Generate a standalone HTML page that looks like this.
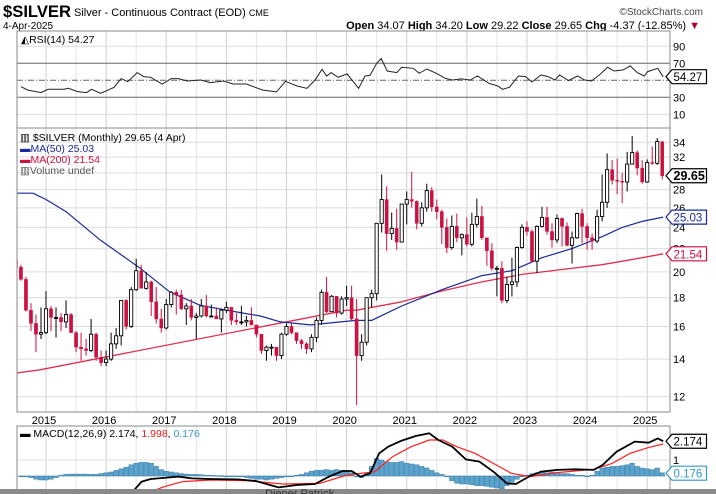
<!DOCTYPE html>
<html><head><meta charset="utf-8"><style>
html,body{margin:0;padding:0;background:#fff;}
svg{display:block;font-family:"Liberation Sans",sans-serif;}
</style></head><body>
<svg id="chart" width="716" height="494" viewBox="0 0 716 494" xmlns="http://www.w3.org/2000/svg">
<rect x="0" y="0" width="716" height="494" fill="#fff"/>
<g>
<text x="3" y="17" font-size="17" font-weight="bold" fill="#000" textLength="68" lengthAdjust="spacingAndGlyphs">$SILVER</text>
<text x="74" y="16" font-size="11" fill="#000">Silver - Continuous Contract (EOD) <tspan font-size="9">CME</tspan></text>
<text x="703" y="15" font-size="10" fill="#444" text-anchor="end">©StockCharts.com</text>
<text x="3" y="29" font-size="10" fill="#000">4-Apr-2025</text>
<text x="700" y="29" font-size="11" fill="#000" text-anchor="end"><tspan font-weight="bold">Open</tspan> 34.07 <tspan font-weight="bold">High</tspan> 34.20 <tspan font-weight="bold">Low</tspan> 29.22 <tspan font-weight="bold">Close</tspan> 29.65 <tspan font-weight="bold">Chg</tspan> -4.37 (-12.85%) <tspan fill="#b00020">▼</tspan></text>
</g>
<g id="grid"></g>
<g id="rsi"></g>
<g id="price"></g>
<g id="macd"></g>
<g id="labels"></g>
<rect x="0" y="489" width="716" height="5" fill="#8a8a8a"/>
<text x="265" y="497" font-size="11" fill="#333">Diener Patrick</text>
</svg>
<script>
// ---- data ----
const years = ['2015','2016','2017','2018','2019','2020','2021','2022','2023','2024','2025'];
// monthly candles Jul 2014 .. Apr 2025
const opens = [21.0,20.4,19.4,17.1,16.2,15.5,
15.6,17.2,16.6,16.6,16.3,16.8,15.6,14.7,14.6,14.5,15.5,14.1,
13.8,14.0,14.9,15.4,17.8,16.0,18.6,20.1,18.7,19.2,17.7,16.5,
15.9,17.5,18.4,18.2,17.2,17.4,16.6,16.7,17.4,16.7,16.7,16.5,
17.1,17.3,16.4,16.3,16.3,16.4,16.1,15.5,14.5,14.7,14.7,14.2,
15.5,16.0,15.6,15.1,14.9,14.6,15.3,16.4,18.4,17.0,18.1,16.9,
17.9,18.0,16.5,14.2,15.0,18.0,18.3,24.4,26.9,23.4,23.9,22.6,
26.4,26.9,26.7,24.4,26.0,27.9,26.1,25.6,24.0,22.1,24.1,23.0,
23.3,22.4,24.3,25.1,23.0,21.8,20.3,20.3,17.8,19.0,19.2,22.1,
24.0,23.6,20.9,24.1,25.0,23.6,22.8,24.9,24.1,22.3,23.0,25.4,
24.1,23.0,22.7,25.1,26.6,30.4,29.1,29.0,28.9,31.1,32.6,30.6,
28.9,31.3,31.2,34.07];
const highs = [21.6,20.6,19.6,17.6,16.8,17.3,
18.5,17.4,17.3,16.9,17.8,16.9,15.7,15.6,15.2,16.5,15.6,14.5,
14.5,15.6,15.9,17.8,17.9,18.8,21.1,20.6,20.0,19.3,18.8,17.2,
17.9,18.5,18.6,18.6,17.6,17.9,16.9,17.9,18.2,17.5,17.3,17.2,
17.7,17.3,16.9,17.4,16.7,17.3,16.1,15.5,14.8,14.9,14.7,15.6,
16.2,16.2,15.6,15.2,15.0,15.5,16.6,18.6,19.6,18.2,18.1,18.1,
18.9,18.9,17.9,15.5,18.0,18.6,24.4,29.8,28.4,25.5,25.9,26.4,
27.8,30.1,26.8,26.6,28.7,28.3,26.9,25.8,24.9,25.2,25.4,23.4,
25.0,25.5,27.0,26.2,23.0,22.5,20.5,20.9,19.6,21.2,22.2,24.3,
24.6,23.8,24.2,26.1,26.1,24.4,25.3,25.0,24.5,23.6,25.5,25.9,
24.4,23.4,25.8,29.8,32.5,31.6,31.8,30.0,32.7,34.9,32.9,31.6,
31.7,33.4,34.6,34.20];
const lows = [20.3,19.3,17.0,15.7,14.4,15.2,
15.5,15.7,15.3,15.7,15.9,15.6,14.4,13.9,14.2,14.4,13.9,13.6,
13.6,13.9,14.6,14.8,15.8,15.9,18.5,18.7,18.6,16.7,16.2,15.6,
15.8,17.3,16.8,17.1,16.1,16.4,15.2,16.6,16.6,16.6,16.5,15.6,
16.9,16.1,16.1,16.1,16.0,16.1,15.3,14.3,13.9,14.2,13.9,14.0,
15.4,15.5,14.9,14.6,14.3,14.4,15.0,16.1,16.9,17.0,16.6,16.8,
17.4,16.4,11.6,13.9,14.8,17.3,17.8,23.5,21.8,22.8,21.9,22.6,
24.3,26.0,23.8,24.1,25.6,25.6,24.8,22.4,21.6,21.9,22.6,21.4,
22.2,22.2,24.0,22.8,20.5,20.1,18.1,17.6,17.6,18.1,18.8,22.0,
23.2,20.8,19.9,24.0,23.3,22.1,22.5,22.2,22.2,20.7,22.9,22.5,
21.9,21.9,22.5,24.6,26.0,28.6,27.5,26.5,27.8,31.1,29.7,28.7,
28.8,31.0,31.0,29.22];
const closes = [20.4,19.4,17.1,16.2,15.5,15.6,
17.2,16.6,16.6,16.3,16.8,15.6,14.7,14.6,14.5,15.5,14.1,13.8,
14.0,14.9,15.4,17.8,16.0,18.6,20.1,18.7,19.2,17.7,16.5,15.9,
17.5,18.4,18.2,17.2,17.4,16.6,16.7,17.4,16.7,16.7,16.5,17.1,
17.3,16.4,16.3,16.3,16.4,16.1,15.5,14.5,14.7,14.7,14.2,15.5,
16.0,15.6,15.1,14.9,14.6,15.3,16.4,18.4,17.0,18.1,16.9,17.9,
18.0,16.5,14.2,15.0,18.0,18.3,24.4,26.9,23.4,23.9,22.6,26.4,
26.9,26.7,24.4,26.0,27.9,26.1,25.6,24.0,22.1,24.1,23.0,23.3,
22.4,24.3,25.1,23.0,21.8,20.3,20.3,17.8,19.0,19.2,22.1,24.0,
23.6,20.9,24.1,25.0,23.6,22.8,24.9,24.1,22.3,23.0,25.4,24.1,
23.0,22.7,25.1,26.6,30.4,29.1,29.0,28.9,31.1,32.6,30.6,28.9,
31.3,31.2,34.1,29.65];
// moving averages: month offsets from Jan 2015 and values
const ma50Months = [-6.5,-2.6,0,4,10.8,18.8,24.8,30.8,36.8,42.8,46.8,52.8,58.8,62,65,71,79,87,93,99,105,111,115,119,123.2];
const ma50Vals = [27.6,27.6,26.9,25.6,22.8,20.3,18.4,17.45,17.05,16.7,16.3,16.1,16.3,16.4,16.4,17.4,18.6,19.7,20.1,21.2,22.0,23.1,24.0,24.6,25.03];
const ma200Months = [-6.5,-1.2,60,62,71,79,87,95,103,111,119,123.2];
const ma200Vals = [13.2,13.4,17.1,17.1,17.7,18.5,19.2,19.8,20.2,20.6,21.2,21.54];
// RSI readings: month index (Aug 2014 = 0) and value
const rsiIdx = [0,1.3,4.0,5.4,8.6,9.5,11.3,13.1,14.1,15.9,18.6,20.0,21.3,23.2,24.5,25.9,28.2,30.0,31.4,33.2,35.9,37.8,40.5,42.3,45.0,48.2,51.0,52.8,55.1,57.1,58.7,60.1,61.0,61.9,63.3,65.1,67.4,68.7,69.7,71.0,71.9,73.1,75.0,76.0,78.3,79.5,81.0,82.9,84.7,86.1,87.9,89.7,91.1,93.4,95.2,96.1,97.5,99.3,100.7,102.0,103.8,105.2,106.6,107.5,109.3,111.1,112.5,113.9,115.7,117.1,118.4,120.2,121.6,123.0,124.4,125.1,127.1,128.2];
const rsiVals = [42.5,38.6,35.5,39.4,39.4,40.6,36.7,35.5,39.4,34.7,41.8,52.0,48.4,59.0,54.3,53.5,45.7,52.0,52.0,49.2,50.4,47.3,49.2,45.7,45.7,38.6,36.3,48.8,43.3,40.6,50.4,62.9,55.1,59.0,53.5,57.5,40.6,55.1,55.9,70,75.5,61.0,59.0,65.3,64.1,58.2,63.3,58.2,52.4,50.4,51.6,50.4,55.1,46.5,43.3,39.4,41.8,55.1,54.3,48.0,56.3,54.3,50.4,56.3,49.6,55.1,50.4,49.2,57.5,65.3,61.0,62.2,66.9,59.0,55.1,60.2,64.1,54.27];
// MACD readings
const macdIdx = [22.3,24.1,25.9,31.4,34.1,37.8,43.2,46.9,51.4,55.1,58.7,61.5,64.2,66.0,67.8,69.7,71.5,73.3,76.0,78.8,81.5,83.3,86.1,88.8,91.5,94.3,97.0,98.8,101.6,103.8,107.0,110.7,114.3,116.1,118.9,122.5,125.3,127.1,128.2];
const macdVals = [-0.98,-0.35,-0.19,-0.04,-0.15,-0.19,-0.21,-0.31,-0.71,-0.56,-0.5,-0.04,0.31,0.31,-0.04,0.17,1.42,1.83,2.21,2.5,2.67,2.25,1.83,1.04,0.9,0.27,-0.46,-0.5,0,0.27,0.38,0.42,0.38,0.69,1.52,2.15,2.08,2.35,2.174];
const sigIdx = [25.9,28.6,32.3,37.8,45.0,52.3,59.6,65.1,70.6,74.2,77.9,81.5,84.2,87.0,90.6,94.3,97.9,101.6,107.0,114.3,118.0,121.6,125.3,128.2];
const sigVals = [-0.98,-0.67,-0.35,-0.25,-0.29,-0.5,-0.46,0.06,0.27,1.21,1.83,2.25,2.25,1.83,1.42,0.79,0.17,-0.04,0.21,0.42,0.79,1.42,1.79,1.998];
// histogram per month, Aug 2014 .. Apr 2025
const histVals = [0.0,-0.05,-0.1,
-0.2,-0.25,-0.25,-0.2,-0.1, 0.05,0.1,0.12,0.12,0.12, 0.12,0.1,0.1,0.15,0.2,
0.25,0.35,0.45,0.55,0.7, 0.8,0.85,0.85,0.8,0.6, 0.4,0.3,0.25,0.2,0.15,
0.12,0.1,0.1,0.08,0.05, 0.05,0.03,0.02,0.0,0.0, -0.02,-0.05,-0.1,-0.15,-0.2,
-0.2,-0.25,-0.2,-0.15,-0.1, -0.05,0.0,0.05,0.1,0.2, 0.3,0.35,0.35,0.4,0.35,
0.4,0.35,0.35,0.2,0.0, -0.1,0.2,0.6,1.1,1.0, 0.9,0.85,0.85,0.9,0.8,
0.75,0.7,0.6,0.5,0.35, 0.2,0.1,-0.05,-0.3,-0.45, -0.5,-0.5,-0.55,-0.6,-0.6,
-0.65,-0.7,-0.75,-0.8,-0.6, -0.4,-0.2,-0.05,0.05,0.15, 0.2,0.25,0.2,0.25,0.2,
0.15,0.15,0.1,0.05,0.05, 0.0,0.05,0.3,0.5,0.55, 0.6,0.6,0.65,0.7,0.8,
0.6,0.5,0.45,0.4,0.5, 0.2];
const priceTicks = [12,14,16,18,20,22,24,26,28,30,32,34];
const rsiTicks = [90,70,30,10];

// ---- scales ----
const NS='http://www.w3.org/2000/svg';
const L=17, R=670;
const xM = m => 46 + m*5.01;            // m: months from Jan 2015
const xI = i => xM(i-5);                // i: months from Aug 2014
const xC = k => xM(k-6);                // k: candle index from Jul 2014
const yP = p => 142.3 + 244.3*(Math.log(34)-Math.log(p));
const yR = v => 63.3 + (70-v)*0.85;
const yMd = v => 476 - 16*v;
function el(tag, attrs, parent){const e=document.createElementNS(NS,tag);for(const k in attrs)e.setAttribute(k,attrs[k]);parent.appendChild(e);return e;}
const grid=document.getElementById('grid'), rsiG=document.getElementById('rsi'), priceG=document.getElementById('price'), macdG=document.getElementById('macd'), lab=document.getElementById('labels');

// panels
const panels=[[31,128],[128,412],[426,494]];
panels.forEach(([t,b])=>{
  for(let m=-6;m<=126;m+=6){const x=xM(m); if(x<L||x>R)continue;
    const g=el('line',{x1:x,x2:x,y1:t,y2:b,stroke:m%12===0?'#cfcfcf':'#e4e4e4','stroke-width':1},grid);
    
    }
});
priceTicks.forEach(p=>{const y=yP(p);
  const g=el('line',{x1:L,x2:R,y1:y,y2:y,stroke:'#dcdcdc'},grid);
  
  
  const t=el('text',{x:673,y:y+4,'font-size':11,fill:'#000'},lab);t.textContent=p;
  
  
});
[90,10].forEach(v=>{const g=el('line',{x1:L,x2:R,y1:yR(v),y2:yR(v),stroke:'#dcdcdc'},grid);
  
  });
[70,30].forEach(v=>{const g=el('line',{x1:L,x2:R,y1:yR(v),y2:yR(v),stroke:'#666'},grid);
  
  });
{const g=el('line',{x1:L,x2:R,y1:yR(50),y2:yR(50),stroke:'#666','stroke-dasharray':'6,2,1,2'},grid);
  
  }
rsiTicks.forEach(v=>{const t=el('text',{x:673,y:yR(v)+4,'font-size':11,fill:'#000'},lab);t.textContent=v;
  
  });
[1,0].forEach(v=>{const g=el('line',{x1:L,x2:R,y1:yMd(v),y2:yMd(v),stroke:'#dcdcdc'},grid);
  
  });
{const t=el('text',{x:673,y:yMd(1)+4,'font-size':11,fill:'#000'},lab);t.textContent='1';
  
  }

// RSI line
{const pts=rsiIdx.map((i,k)=>xI(i).toFixed(1)+','+yR(rsiVals[k]).toFixed(1)).join(' ');
 const p=el('polyline',{points:pts,fill:'none',stroke:'#222','stroke-width':1},rsiG);
 
 }
{const t=el('text',{x:21,y:43,'font-size':10.5,fill:'#000'},rsiG);t.textContent='◭RSI(14) 54.27';
 
 }

const defs=el('defs',{},document.getElementById('chart'));
const cp=el('clipPath',{id:'pc'},defs);el('rect',{x:L,y:128,width:R-L,height:284},cp);
const cm=el('clipPath',{id:'mc'},defs);el('rect',{x:L,y:426,width:R-L,height:64},cm);
priceG.setAttribute('clip-path','url(#pc)');
macdG.setAttribute('clip-path','url(#mc)');

function line(ix, vals, xf, yf, color, name, parent, w){
  const pts=ix.map((i,k)=>xf(i).toFixed(1)+','+yf(vals[k]).toFixed(1)).join(' ');
  const p=el('polyline',{points:pts,fill:'none',stroke:color,'stroke-width':w||1.2,'stroke-linejoin':'round'},parent);
  
  
}
line(ma200Months,ma200Vals,xM,yP,'#e03050','ma200-line',priceG,1.3);
line(ma50Months,ma50Vals,xM,yP,'#1a2a9a','ma50-line',priceG,1.2);

closes.forEach((c,k)=>{
  const o=opens[k],h=highs[k],lo=lows[k],x=xC(k);const up=c>=o;
  const col=up?'#000':'#cc1040';
  const w=el('line',{x1:x,x2:x,y1:yP(h),y2:yP(lo),stroke:col,'stroke-width':1},priceG);
  
  
  const yt=yP(Math.max(o,c)), yb=yP(Math.min(o,c));
  const b=el('rect',{x:x-1.6,y:yt,width:3.2,height:Math.max(1,yb-yt),fill:up?'#fff':'#cc1040',stroke:up?'#000':'#cc1040','stroke-width':up?0.9:0.4},priceG);
  
  
});
[['▥ $SILVER (Monthly) 29.65 (4 Apr)','#000',141,'price-legend'],['▬MA(50) 25.03','#1a2a9a',152,'ma50-legend'],['▬MA(200) 21.54','#cc1040',163,'ma200-legend'],['▥Volume undef','#555',174,'volume-legend']].forEach(([s,c,y,n])=>{
  const t=el('text',{x:20,y:y,'font-size':10.5,fill:c},lab);t.textContent=s;
  
  });

histVals.forEach((v,i)=>{const x=xI(i);const y0=yMd(0),y1=yMd(v);
  const r=el('rect',{x:x-2.3,y:Math.min(y0,y1),width:4.6,height:Math.max(0.8,Math.abs(y1-y0)),fill:'#5ba3cc',stroke:'#3a7ea8','stroke-width':0.5},macdG);
  
  });
line(sigIdx,sigVals,xI,yMd,'#ff2020','macd-signal-line',macdG,1.2);
line(macdIdx,macdVals,xI,yMd,'#000','macd-line',macdG,1.8);
{const t=el('text',{x:20,y:437,'font-size':10.5,fill:'#000'},lab);
 t.innerHTML='<tspan font-weight="bold">▬</tspan> MACD(12,26,9) 2.174, <tspan fill="#e02020">1.998</tspan>, <tspan fill="#3399cc">0.176</tspan>';
 
 }

panels.forEach(([t,b])=>{const r=el('rect',{x:L,y:t,width:R-L,height:b-t,fill:'none',stroke:'#888','stroke-width':1},lab);
  
  });

years.forEach((yr,k)=>{const t=el('text',{x:xM(k*12)-2,y:424,'font-size':11,fill:'#000','text-anchor':'middle'},lab);t.textContent=yr;
  
  });

function tag(y,txt,color,bold,name){
  const w=txt.length*5.9+5;
  const p=el('path',{d:`M666,${y} L672,${y-7} L${672+w},${y-7} L${672+w},${y+7} L672,${y+7} Z`,fill:'#fff',stroke:color,'stroke-width':1.2},lab);
  
  
  const t=el('text',{x:673.5,y:y+4.5,'font-size':bold?12.5:11.5,'font-weight':bold?'bold':'normal',fill:color==='#000'?'#000':color},lab);t.textContent=txt;
  
  
}
tag(yP(29.65),'29.65','#000',true,'last-price-tag');
tag(yP(25.03),'25.03','#1a2a9a',false,'ma50-tag');
tag(yP(21.54),'21.54','#cc1040',false,'ma200-tag');
tag(yR(54.27),'54.27','#000',false,'rsi-tag');
tag(yMd(2.174),'2.174','#000',false,'macd-tag');
tag(yMd(0.176),'0.176','#3399cc',false,'histogram-tag');
</script>
</body></html>
